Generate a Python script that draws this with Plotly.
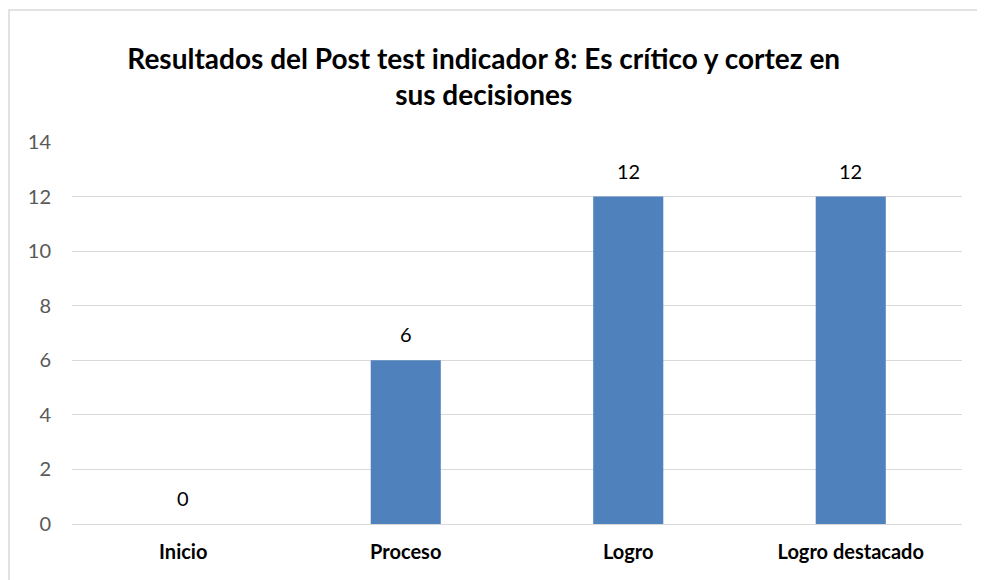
import plotly.graph_objects as go

categories = ["Inicio", "Proceso", "Logro", "Logro destacado"]
values = [0, 6, 12, 12]
y_ticks = [0, 2, 4, 6, 8, 10, 12, 14]

fig = go.Figure(
    go.Bar(
        x=categories,
        y=values,
        marker=dict(color="#4F81BD", line=dict(width=0)),
        cliponaxis=False,
        hoverinfo="x+y",
    )
)

annotations = [
    dict(
        x=c,
        y=v,
        xref="x",
        yref="y",
        text=str(v),
        showarrow=False,
        yanchor="middle",
        yshift=26,
        font=dict(family="Lato", size=20, color="#000000"),
    )
    for c, v in zip(categories, values)
]

fig.update_layout(
    width=985,
    height=580,
    margin=dict(l=64, r=31, t=134, b=64),
    paper_bgcolor="white",
    plot_bgcolor="white",
    bargap=0.685,
    showlegend=False,
    annotations=annotations,
    title=dict(
        text="<b>Resultados del Post test indicador 8: Es crítico y cortez en<br>sus decisiones</b>",
        x=0.483,
        xanchor="center",
        y=0.895,
        yanchor="middle",
        font=dict(family="Lato", size=28, color="#000000"),
    ),
    xaxis=dict(
        tickfont=dict(family="Lato", size=20, color="#000000"),
        showline=False,
        ticks="",
        tickprefix="<b>",
        ticksuffix="</b>",
        ticklabelstandoff=14,
    ),
    yaxis=dict(
        range=[0, 14],
        tickvals=y_ticks,
        tickfont=dict(family="Lato", size=20, color="#595959"),
        showgrid=True,
        gridcolor="#D9D9D9",
        gridwidth=1,
        zeroline=True,
        zerolinecolor="#D9D9D9",
        zerolinewidth=1,
        ticks="",
        ticklabelstandoff=20,
    ),
    shapes=[
        dict(
            type="rect",
            xref="paper",
            yref="paper",
            x0=-0.0708,
            x1=1.2,
            y0=-0.5,
            y1=1.3455,
            line=dict(color="#D9D9D9", width=1.5),
            fillcolor="rgba(0,0,0,0)",
            layer="below",
        )
    ],
)

fig.write_html("out.html")
